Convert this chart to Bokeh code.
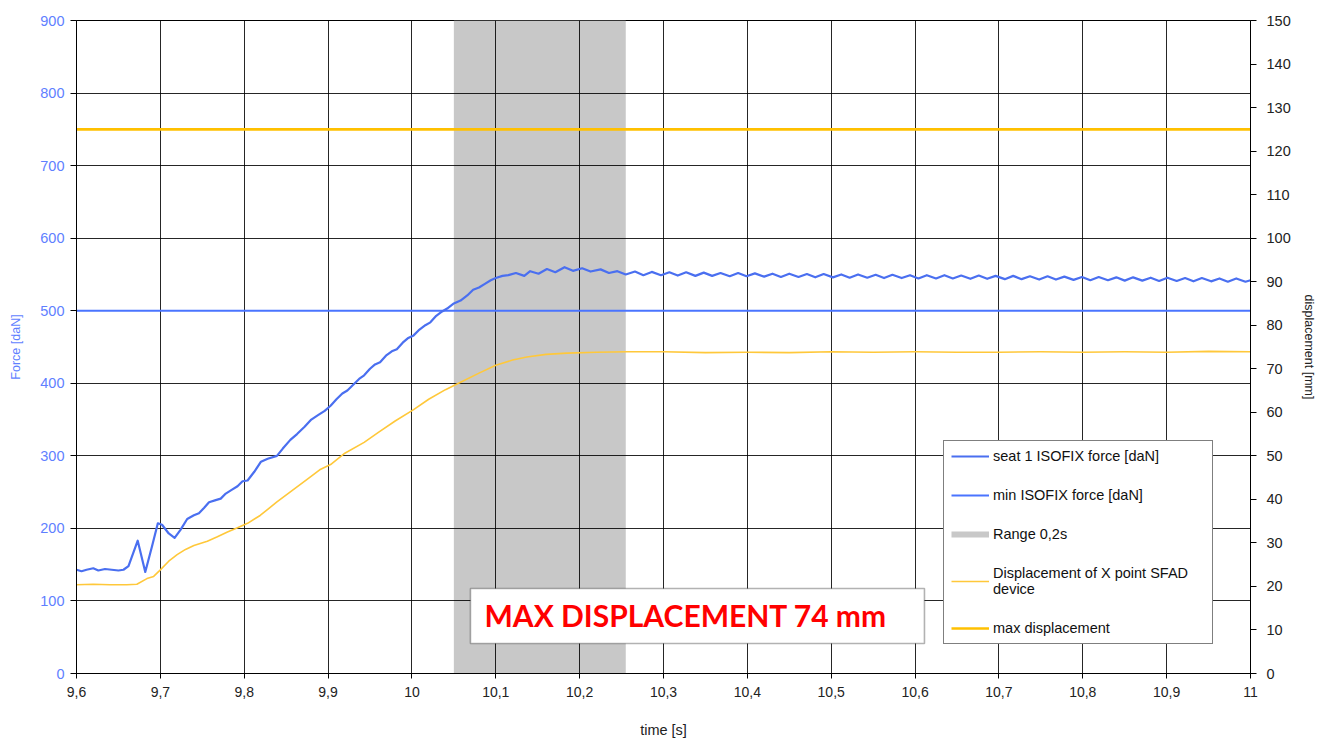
from bokeh.plotting import figure
from bokeh.models import (Range1d, LinearAxis, FixedTicker, Legend, LegendItem,
                          Label, BoxAnnotation, CustomJSTickFormatter)
from bokeh.embed import file_html
from bokeh.resources import INLINE

# ---- data -------------------------------------------------------------
# seat 1 ISOFIX force [daN] vs time [s]
force_t = [9.600, 9.606, 9.612, 9.620, 9.626, 9.634, 9.642, 9.650, 9.656, 9.662,
           9.673, 9.682, 9.690, 9.697, 9.702, 9.710, 9.717, 9.724, 9.732, 9.740,
           9.746, 9.752, 9.758, 9.766, 9.772, 9.778, 9.785, 9.792, 9.798, 9.804,
           9.812, 9.820, 9.828, 9.839, 9.846, 9.855, 9.863, 9.872, 9.880, 9.888,
           9.896, 9.903, 9.910, 9.917, 9.923, 9.930, 9.937, 9.943, 9.950, 9.956,
           9.962, 9.969, 9.976, 9.982, 9.989, 9.995, 10.002, 10.009, 10.016, 10.022,
           10.029, 10.036, 10.042, 10.050, 10.058, 10.066, 10.073, 10.080, 10.087, 10.094,
           10.100, 10.108, 10.115, 10.124, 10.134, 10.141, 10.151, 10.161, 10.171, 10.182,
           10.192, 10.203, 10.213, 10.225, 10.235, 10.245, 10.255, 10.266, 10.276, 10.286,
           10.297, 10.307, 10.317, 10.327, 10.338, 10.348, 10.358, 10.368, 10.379, 10.389,
           10.399, 10.409, 10.420, 10.430, 10.440, 10.450, 10.461, 10.471, 10.481, 10.491,
           10.502, 10.512, 10.522, 10.532, 10.543, 10.553, 10.563, 10.573, 10.584, 10.594,
           10.604, 10.614, 10.625, 10.635, 10.645, 10.655, 10.666, 10.676, 10.686, 10.696,
           10.707, 10.717, 10.727, 10.737, 10.748, 10.758, 10.768, 10.778, 10.789, 10.799,
           10.809, 10.819, 10.830, 10.840, 10.850, 10.860, 10.871, 10.881, 10.891, 10.901,
           10.912, 10.922, 10.932, 10.942, 10.953, 10.963, 10.973, 10.983, 10.994, 11.000]
force_v = [143, 141, 143, 145, 142, 144, 143, 142, 143, 148,
           183, 140, 175, 207, 205, 193, 187, 198, 213, 218,
           221, 228, 236, 239, 241, 248, 253, 258, 265, 266,
           278, 292, 296, 300, 310, 322, 330, 340, 350, 356,
           362, 369, 378, 386, 390, 398, 406, 411, 420, 426,
           429, 438, 444, 447, 456, 462, 466, 474, 480, 484,
           493, 499, 503, 510, 514, 521, 529, 532, 537, 542,
           545, 548, 549, 552, 548, 554.5, 551, 557.5, 553, 560,
           555, 558.5, 554, 557, 552, 554.5, 550, 554, 549, 553.5,
           549, 553, 548.5, 553, 548, 552.5, 548, 552, 547.5, 552,
           547.5, 551.5, 547, 551, 546.5, 551, 546.5, 550.5, 546, 550.5,
           546, 550, 545.5, 550, 545.5, 549.5, 545, 549.5, 545, 549,
           544.5, 549, 544.5, 549, 544.5, 548.5, 544, 548.5, 544, 548,
           543.5, 548, 543.5, 547.5, 543, 547.5, 543, 547, 542.5, 546.5,
           542, 546.5, 542, 546, 541.5, 546, 541.5, 545.5, 541, 545.5,
           541, 545, 540.5, 545, 540.5, 544.5, 540, 544.5, 540, 542]

# minimum required ISOFIX force [daN]
min_force = 500

# displacement of X point SFAD device [mm] vs time [s]
disp_t = [9.600, 9.620, 9.640, 9.660, 9.672, 9.684, 9.692, 9.700, 9.710, 9.720,
          9.730, 9.740, 9.756, 9.768, 9.780, 9.792, 9.804, 9.819, 9.839, 9.857,
          9.875, 9.890, 9.903, 9.920, 9.943, 9.960, 9.980, 10.002, 10.020, 10.040,
          10.058, 10.080, 10.100, 10.120, 10.137, 10.160, 10.185, 10.220, 10.257, 10.300,
          10.350, 10.400, 10.450, 10.500, 10.550, 10.600, 10.650, 10.700, 10.750, 10.800,
          10.850, 10.900, 10.950, 11.000]
disp_v = [20.4, 20.5, 20.4, 20.4, 20.5, 21.8, 22.3, 23.8, 25.8, 27.3,
          28.5, 29.4, 30.4, 31.4, 32.5, 33.5, 34.5, 36.3, 39.4, 42.0,
          44.6, 46.8, 48.0, 50.6, 53.1, 55.4, 58.0, 60.6, 63.0, 65.2,
          66.9, 69.0, 70.8, 72.0, 72.7, 73.3, 73.6, 73.8, 73.9, 73.9,
          73.7, 73.8, 73.7, 73.9, 73.8, 73.9, 73.8, 73.8, 73.9, 73.8,
          73.9, 73.8, 74.0, 73.9]

# allowed maximum displacement [mm]
max_disp = 125

# evaluation window [s]
range_start, range_end = 10.05, 10.255

x_ticks = [9.6, 9.7, 9.8, 9.9, 10.0, 10.1, 10.2, 10.3, 10.4, 10.5, 10.6, 10.7, 10.8, 10.9, 11.0]
force_ticks = [0, 100, 200, 300, 400, 500, 600, 700, 800, 900]
disp_ticks = [0, 10, 20, 30, 40, 50, 60, 70, 80, 90, 100, 110, 120, 130, 140, 150]

FONT = "Liberation Sans"
BLUE_TXT = "#5f7fff"

# ---- figure ------------------------------------------------------------
p = figure(width=1322, height=740, output_backend="svg", toolbar_location=None,
           x_range=Range1d(9.6, 11.0), y_range=Range1d(0, 900),
           min_border_left=76, min_border_right=72, min_border_top=20,
           min_border_bottom=67)
p.extra_y_ranges = {"disp": Range1d(0, 150)}
p.outline_line_color = "black"
p.outline_line_width = 1
p.background_fill_color = "white"
p.border_fill_color = "white"

# grid
p.xgrid.ticker = FixedTicker(ticks=x_ticks)
p.ygrid.ticker = FixedTicker(ticks=force_ticks)
for g in (p.xgrid, p.ygrid):
    g.grid_line_color = "black"
    g.grid_line_alpha = 0.85
    g.grid_line_width = 1

# x axis
xa = p.xaxis[0]
xa.ticker = FixedTicker(ticks=x_ticks)
xa.formatter = CustomJSTickFormatter(
    code="return tick.toFixed(1).replace('.', ',').replace(',0', '');")
xa.axis_label = "time [s]"

# left axis (force)
ya = p.yaxis[0]
ya.ticker = FixedTicker(ticks=force_ticks)
ya.axis_label = "Force [daN]"
ya.major_label_text_color = BLUE_TXT
ya.axis_label_text_color = BLUE_TXT

# right axis (displacement)
ra = LinearAxis(y_range_name="disp", ticker=FixedTicker(ticks=disp_ticks),
                axis_label="displacement [mm]")
p.add_layout(ra, "right")

for ax in (xa, ya, ra):
    ax.axis_line_color = "black"
    ax.major_tick_line_color = "black"
    ax.major_tick_in = 0
    ax.major_tick_out = 6
    ax.minor_tick_line_color = None
    ax.major_label_text_font = FONT
    ax.major_label_text_font_size = "14.5px"
    ax.axis_label_text_font = FONT
    ax.axis_label_text_font_style = "normal"
    ax.axis_label_text_font_size = "12.5px"
xa.major_tick_out = 5
xa.major_label_standoff = 8
xa.major_label_text_font_size = "14px"
xa.major_label_text_color = "#222"
xa.axis_label_standoff = 22
xa.axis_label_text_font_size = "14.5px"
xa.axis_label_text_color = "#222"
ya.major_label_standoff = 6
ya.axis_label_standoff = 14
ra.major_label_standoff = 10
ra.major_label_text_color = "#222"
ra.axis_label_standoff = 8
ra.axis_label_text_color = "#222"

# ---- glyphs ------------------------------------------------------------
p.quad(left=[range_start], right=[range_end], bottom=[0], top=[900],
       fill_color="#c8c8c8", line_color=None, level="image")

r_min = p.line([9.6, 11.0], [min_force, min_force], line_color="#4a74ff", line_width=2)
r_force = p.line(force_t, force_v, line_color="#4a6ff0", line_width=2.2,
                 line_join="round")
r_disp = p.line(disp_t, disp_v, y_range_name="disp", line_color="#ffc83a",
                line_width=1.6, line_join="round")
r_max = p.line([9.6, 11.0], [max_disp, max_disp], y_range_name="disp",
               line_color="#ffc000", line_width=2.6)
r_range = p.line([range_start, range_start], [float("nan"), float("nan")],
                 line_color="#c8c8c8", line_width=6)

legend = Legend(items=[
    LegendItem(label="seat 1 ISOFIX force [daN]", renderers=[r_force]),
    LegendItem(label="min ISOFIX force [daN]", renderers=[r_min]),
    LegendItem(label="Range 0,2s", renderers=[r_range]),
    LegendItem(label="Displacement of X point SFAD\ndevice", renderers=[r_disp]),
    LegendItem(label="max displacement", renderers=[r_max]),
], location=(867, 29))
legend.border_line_color = "black"
legend.border_line_width = 1.2
legend.background_fill_color = "white"
legend.background_fill_alpha = 1
legend.label_text_font = FONT
legend.label_text_font_size = "14.5px"
legend.label_text_color = "#111"
legend.label_text_line_height = 1.1
legend.glyph_width = 38
legend.glyph_height = 14
legend.label_height = 14
legend.label_width = 212
legend.label_standoff = 4
legend.spacing = 23
legend.padding = 7
legend.margin = 0
p.add_layout(legend, "center")

# highlighted result box
p.add_layout(BoxAnnotation(left=10.0698, right=10.6112, bottom=41.3, top=117.2,
                           fill_color="white", fill_alpha=1,
                           line_color="black", line_width=1.6))
p.add_layout(Label(x=10.0698, y=80, x_offset=14, text="MAX DISPLACEMENT 74 mm",
                   text_font="Lato", text_font_size="30px", text_font_style="bold",
                   text_color="#ff0000", text_baseline="middle"))

html = file_html(p, INLINE)
with open("out.html", "w") as f:
    f.write(html)
